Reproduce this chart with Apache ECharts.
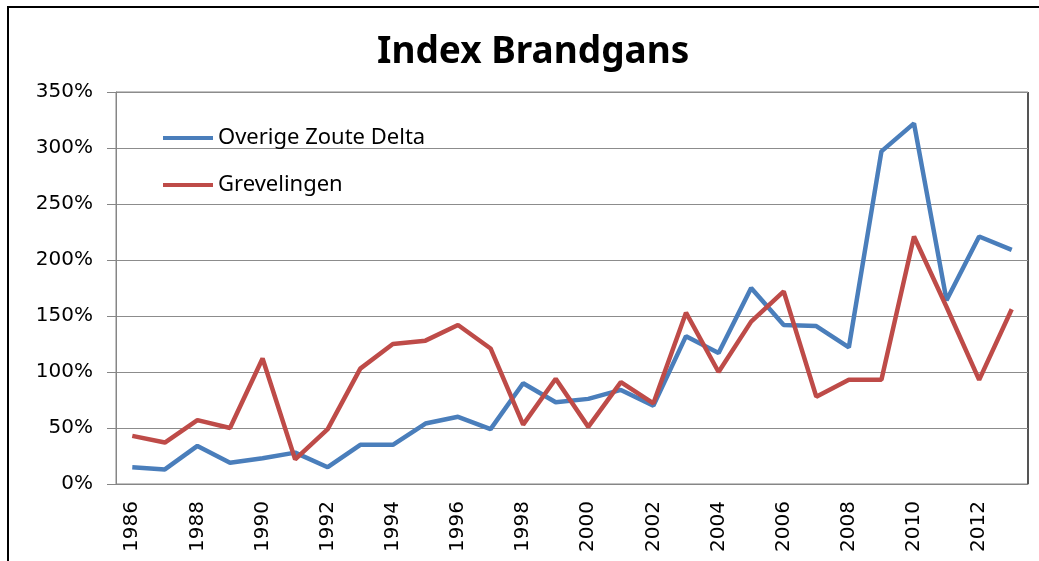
<!DOCTYPE html>
<html>
<head>
<meta charset="utf-8">
<script src="https://cdn.jsdelivr.net/npm/echarts@6/dist/echarts.min.js"></script>
<style>
  html, body { margin: 0; padding: 0; background: #fff; }
  #main { width: 1039px; height: 561px; }
</style>
</head>
<body>
<div id="main"></div>
<script>
// years on the x axis
var years = [];
for (var y = 1986; y <= 2013; y++) years.push(String(y));

// index values in percent
var overigeZouteDelta = [15, 13, 34, 19, 23, 28, 15, 35, 35, 54, 60, 49, 90, 73,
  76, 84, 70, 132, 117, 175, 142, 141, 122, 297, 322, 164, 221, 209];
var grevelingen = [43, 37, 57, 50, 112, 22, 49, 103, 125, 128, 142, 121, 53, 94,
  51, 91, 72, 153, 100, 145, 172, 78, 93, 93, 221, 158, 93, 156];

var yTicks = { min: 0, max: 350, interval: 50 };

var chartDom = document.getElementById("main");
var myChart = echarts.init(chartDom);

var series = [
  {
    name: "Overige Zoute Delta",
    type: "line",
    data: overigeZouteDelta,
    symbol: "none",
    lineStyle: { width: 4.5, color: "#4a7ebb" },
    itemStyle: { color: "#4a7ebb" }
  },
  {
    name: "Grevelingen",
    type: "line",
    data: grevelingen,
    symbol: "none",
    lineStyle: { width: 4.5, color: "#be4b48" },
    itemStyle: { color: "#be4b48" }
  }
];

var option = {
  animation: false,
  title: {
    text: "Index Brandgans",
    left: 372,
    top: 29,
    textStyle: {
      fontFamily: "Noto Sans",
      fontWeight: "bold",
      fontSize: 37,
      color: "#000"
    }
  },
  legend: {
    orient: "vertical",
    left: 163,
    top: 126,
    padding: 0,
    itemWidth: 50,
    itemHeight: 4,
    itemGap: 23,
    icon: "rect",
    textStyle: {
      fontFamily: "Noto Sans",
      fontSize: 22,
      lineHeight: 24,
      color: "#000",
      padding: [0, 0, 0, 0]
    },
    data: ["Overige Zoute Delta", "Grevelingen"]
  },
  grid: {
    left: 116,
    right: 11,
    top: 92,
    bottom: 77,
    show: true,
    borderColor: "#868686",
    borderWidth: 1
  },
  xAxis: {
    type: "category",
    data: years,
    boundaryGap: true,
    axisLine: { lineStyle: { color: "#868686", width: 1 } },
    axisTick: { interval: 0, length: 10, lineStyle: { color: "#868686" } },
    axisLabel: {
      interval: 1,
      rotate: 90,
      margin: 17,
      fontFamily: "DejaVu Sans",
      fontSize: 20,
      color: "#000"
    }
  },
  yAxis: {
    type: "value",
    min: yTicks.min,
    max: yTicks.max,
    interval: yTicks.interval,
    axisLine: { show: true, lineStyle: { color: "#868686", width: 1 } },
    axisTick: { show: true, length: 9, lineStyle: { color: "#868686" } },
    axisLabel: {
      formatter: "{value}%",
      margin: 23,
      fontFamily: "DejaVu Sans",
      fontSize: 20,
      color: "#000"
    },
    splitLine: { lineStyle: { color: "#8c8c8c", width: 1 } }
  },
  graphic: [
    {
      type: "rect",
      shape: { x: 8, y: 7, width: 1200, height: 800 },
      style: { fill: "none", stroke: "#000", lineWidth: 2 },
      silent: true
    },
    {
      type: "line",
      shape: { x1: 1028, y1: 92, x2: 1028, y2: 484 },
      style: { stroke: "#555", lineWidth: 2 },
      silent: true
    }
  ],
  series: series
};

option && myChart.setOption(option);
</script>
</body>
</html>
